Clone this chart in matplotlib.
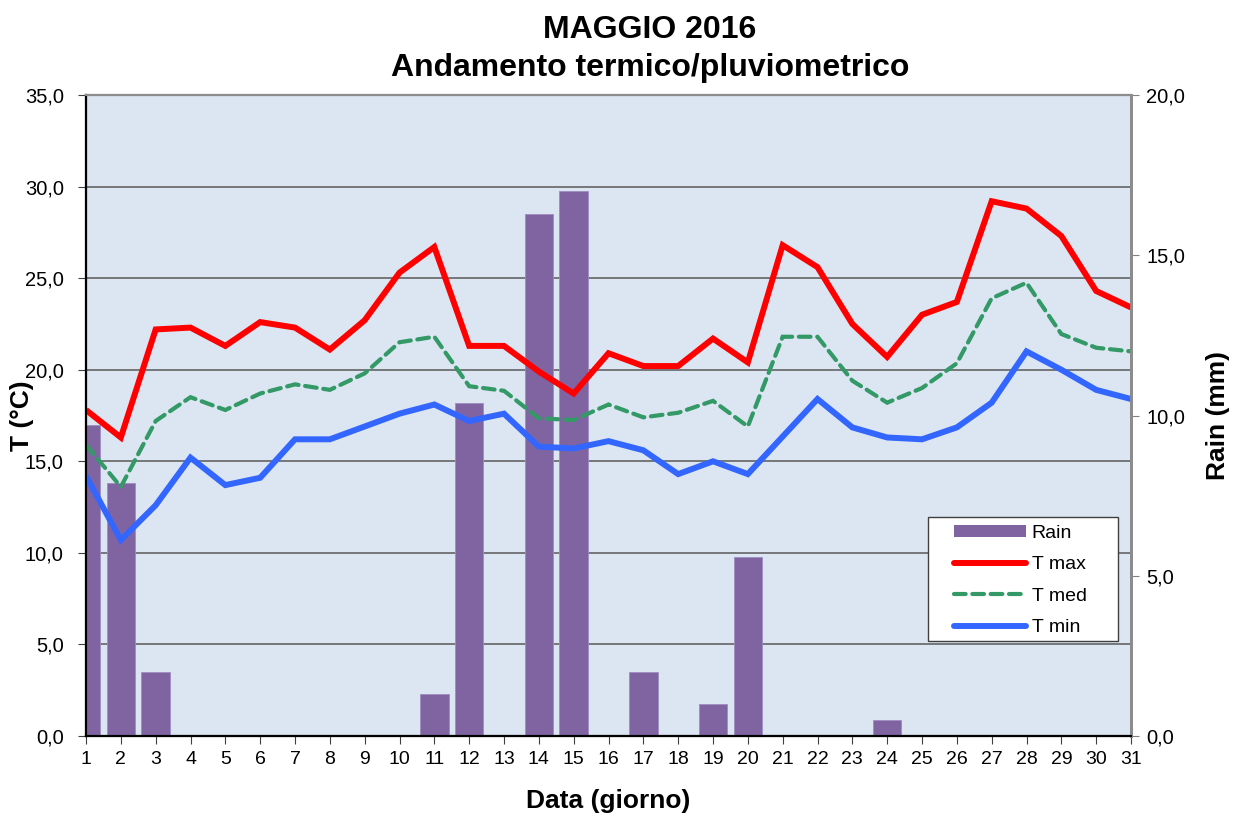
import matplotlib
matplotlib.use("Agg")
import matplotlib.pyplot as plt
from matplotlib.ticker import FuncFormatter, MultipleLocator
from matplotlib.lines import Line2D
from matplotlib.patches import Patch, Rectangle

days = list(range(1, 32))
t_max = [17.8, 16.3, 22.2, 22.3, 21.3, 22.6, 22.3, 21.1, 22.7, 25.3, 26.7,
         21.3, 21.3, 19.9, 18.7, 20.9, 20.2, 20.2, 21.7, 20.4, 26.8,
         25.6, 22.5, 20.7, 23.0, 23.7, 29.2, 28.8, 27.3, 24.3, 23.4]
t_med = [15.9, 13.6, 17.2, 18.5, 17.8, 18.7, 19.2, 18.9, 19.8, 21.5, 21.8,
         19.1, 18.85, 17.35, 17.25, 18.1, 17.4, 17.65, 18.3, 16.9, 21.8,
         21.8, 19.4, 18.2, 19.0, 20.35, 23.9, 24.75, 21.95, 21.2, 21.0]
t_min = [14.2, 10.7, 12.6, 15.2, 13.7, 14.1, 16.2, 16.2, 16.9, 17.6, 18.1,
         17.2, 17.6, 15.8, 15.7, 16.1, 15.6, 14.3, 15.0, 14.3, 16.35,
         18.4, 16.85, 16.3, 16.2, 16.85, 18.2, 21.0, 20.0, 18.9, 18.4]
rain = [9.7, 7.9, 2.0, 0, 0, 0, 0, 0, 0, 0, 1.3,
        10.4, 0, 16.3, 17.0, 0, 2.0, 0, 1.0, 5.6, 0,
        0, 0, 0.5, 0, 0, 0, 0, 0, 0, 0]

W, H = 1241, 817
fig = plt.figure(figsize=(W / 100, H / 100), dpi=100)
plt.rcParams['font.family'] = ['Liberation Sans', 'DejaVu Sans']

rect = [86 / W, 1 - 736 / H, (1131 - 86) / W, (736 - 95) / H]
ax = fig.add_axes(rect)
ax.set_facecolor('#DCE6F2')
ax.set_xlim(1, 31)
ax.set_ylim(0, 35)
ax.yaxis.set_major_locator(MultipleLocator(5))
ax.set_xticks(days)
ax.grid(axis='y', color='#595959', linewidth=1.1)
ax.set_axisbelow(True)

fmt = FuncFormatter(lambda v, p: f"{v:.1f}".replace('.', ','))
ax.yaxis.set_major_formatter(fmt)
ax.tick_params(axis='y', labelsize=14.5, direction='out', length=6,
               color='#404040', pad=10)
ax.tick_params(axis='x', labelsize=14, direction='out', length=6,
               color='#404040', pad=5)

# rain axis
ax2 = ax.twinx()
ax2.set_ylim(0, 20)
ax2.set_xlim(1, 31)
ax2.yaxis.set_major_locator(MultipleLocator(5))
ax2.yaxis.set_major_formatter(fmt)
ax2.tick_params(axis='y', labelsize=14.5, direction='out', length=6,
                color='#808080', pad=5)
ax2.bar(days, rain, width=0.82, color='#8064A2', edgecolor='#A08CC0',
        linewidth=0.6, zorder=2)

# lines axis (same scale as left)
ax3 = ax.twinx()
ax3.set_ylim(0, 35)
ax3.set_xlim(1, 31)
ax3.set_yticks([])
ax3.plot(days, t_max, color='#FF0000', linewidth=4.3, solid_joinstyle='miter',
         solid_capstyle='butt')
ax3.plot(days, t_med, color='#339966', linewidth=3.0, dashes=(2.8, 1.6),
         dash_capstyle='round', dash_joinstyle='miter')
ax3.plot(days, t_min, color='#3366FF', linewidth=4.3, solid_joinstyle='miter',
         solid_capstyle='butt')

for a in (ax, ax2, ax3):
    a.spines['left'].set_color('black')
    a.spines['left'].set_linewidth(1.5)
    a.spines['bottom'].set_color('black')
    a.spines['bottom'].set_linewidth(1.5)
    a.spines['top'].set_color('#8c8c8c')
    a.spines['top'].set_linewidth(1.5)
    a.spines['right'].set_color('#8c8c8c')
    a.spines['right'].set_linewidth(2)

ax_w = 1131 - 86
ax.set_ylabel('T (°C)', fontsize=19, fontweight='bold', va='center')
ax.yaxis.set_label_coords((22 - 86) / ax_w, 0.5)
ax2.set_ylabel('Rain (mm)', fontsize=19, fontweight='bold', va='center')
ax2.yaxis.set_label_coords((1218 - 86) / ax_w, 0.5)
ax.set_xlabel('Data (giorno)', fontsize=19, fontweight='bold', labelpad=15)

fig.text(650 / W, 1 - 30 / H, 'MAGGIO 2016', ha='center', va='center',
         fontsize=23, fontweight='bold')
fig.text(650 / W, 1 - 68 / H, 'Andamento termico/pluviometrico', ha='center',
         va='center', fontsize=23, fontweight='bold')

# legend frame
frame = Rectangle((928 / W, 1 - 641 / H), (1118 - 928) / W, (641 - 517) / H,
                  transform=fig.transFigure, facecolor='white',
                  edgecolor='#404040', linewidth=1.0, zorder=5)
fig.patches.append(frame)

handles = [
    Patch(facecolor='#8064A2', edgecolor='none'),
    Line2D([], [], color='#FF0000', linewidth=4.3, solid_capstyle='round'),
    Line2D([], [], color='#339966', linewidth=3.0, dashes=(2.8, 1.6),
           dash_capstyle='round'),
    Line2D([], [], color='#3366FF', linewidth=4.3, solid_capstyle='round'),
]
labels = ['Rain', 'T max', 'T med', 'T min']
leg = fig.legend(handles, labels, loc='upper left',
                 bbox_to_anchor=(954 / W, 1 - 525 / H),
                 bbox_transform=fig.transFigure, fontsize=14, frameon=False,
                 handlelength=3.7, handleheight=0.6, labelspacing=0.74,
                 handletextpad=0.3, borderpad=0.0, borderaxespad=0)
leg.set_zorder(6)

fig.savefig('out.png', dpi=100)
